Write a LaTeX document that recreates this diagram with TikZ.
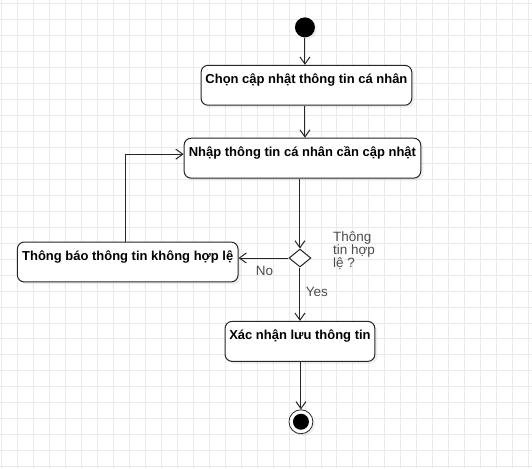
\documentclass[tikz,border=0pt]{standalone}
\usepackage{fontspec}
\setmainfont{Liberation Sans}
\usetikzlibrary{arrows.meta,positioning,calc,shapes.geometric,shadows}
\definecolor{GridGray}{HTML}{EAEAEA}
\definecolor{LabelGray}{HTML}{4D4D4D}
\definecolor{EdgeDark}{HTML}{262626}

\begin{document}
\begin{tikzpicture}[x=1pt,y=-1pt,>={Straight Barb[length=7pt,width=10pt]},
  act/.style={draw=EdgeDark,line width=1pt,rounded corners=7pt,fill=white,
    minimum height=40pt,inner xsep=2pt,inner ysep=4pt,text height=14pt,text depth=18pt,
    font=\fontsize{13}{15}\selectfont\bfseries,
    drop shadow={shadow xshift=2.5pt,shadow yshift=-2.5pt,opacity=.12}},
  flow/.style={->,draw=EdgeDark,line width=1pt},
  guard/.style={text=LabelGray,font=\fontsize{13.5}{13}\selectfont}]
  % background grid
  \fill[white] (0,0) rectangle (532,468);
  \foreach \x in {1,17,...,529} \draw[GridGray,line width=.8pt] (\x,0)--(\x,468);
  \foreach \y in {3,19,...,467} \draw[GridGray,line width=.8pt] (0,\y)--(532,\y);
  \useasboundingbox (0,0) rectangle (532,468);

  % nodes
  \node[circle,fill=black,minimum size=20pt,inner sep=0pt,
    drop shadow={shadow xshift=2pt,shadow yshift=-2pt,opacity=.12}] (start) at (305,27) {};
  \node[act,minimum width=211pt] (chon) at (306.5,85) {Chọn cập nhật thông tin cá nhân};
  \node[act,minimum width=237pt] (nhap) at (302.5,158) {Nhập thông tin cá nhân cần cập nhật};
  \node[diamond,draw=EdgeDark,line width=1pt,fill=white,minimum width=22pt,minimum height=18pt,
    inner sep=0pt] (check) at (300,258) {};
  \node[guard,align=left,anchor=north west,inner sep=0pt] (cond) at (333,231) {Thông\\tin hợp\\lệ ?};
  \node[act,minimum width=221pt] (loi) at (127.5,262) {Thông báo thông tin không hợp lệ};
  \node[act,minimum width=150pt] (luu) at (300,341.5) {Xác nhận lưu thông tin};
  \node[circle,draw=EdgeDark,line width=.8pt,fill=white,minimum size=24pt,inner sep=0pt,
    drop shadow={shadow xshift=2pt,shadow yshift=-2pt,opacity=.12},
    path picture={\fill[black] (path picture bounding box.center) circle (8pt);}] (stop) at (301,422) {};

  % connectors
  \draw[flow] (start) -- (start |- chon.north);
  \draw[flow] (chon.south -| start) -- (start |- nhap.north);
  \draw[flow] (nhap.south -| check) -- (check.north);
  \draw[flow] (check.west) -- (check.west -| loi.east) node[guard,midway,below=4pt,xshift=1pt] {No};
  \draw[flow] ([xshift=-2.5pt]loi.north) |- ([yshift=4pt]nhap.west);
  \draw[flow] (check.south) -- (luu.north) node[guard,pos=.45,right=2pt] {Yes};
  \draw[flow] (luu.south -| stop) -- (stop.north);
\end{tikzpicture}
\end{document}
